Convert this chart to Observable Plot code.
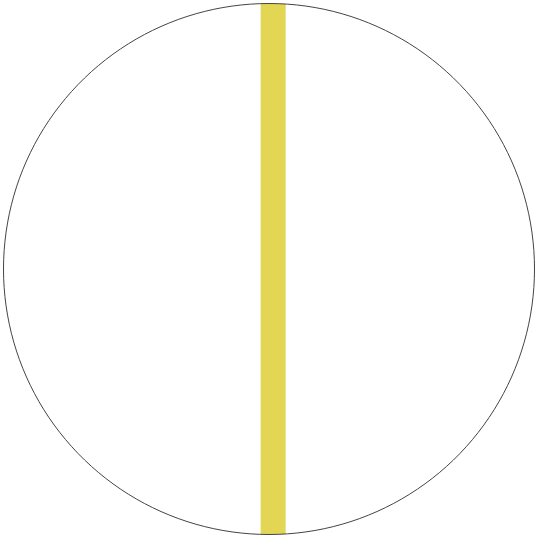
<!DOCTYPE html>
<html>
<head>
<meta charset="utf-8">
<script src="https://cdn.jsdelivr.net/npm/d3@7"></script>
<script src="https://cdn.jsdelivr.net/npm/@observablehq/plot@0.6"></script>
<style>
  html, body { margin: 0; padding: 0; background: #fff; }
</style>
</head>
<body>
<div id="chart"></div>
<script>
// Latitude band (degrees) shown as a vertical strip in a rolled orthographic view
const bandLatitudes = [-3.6, 1.8];
const bandLongitudes = [-100, 100];
const bandColor = "#e3d655";

const band = d3.geoGraticule()
  .extent([[bandLongitudes[0], bandLatitudes[0]], [bandLongitudes[1], bandLatitudes[1]]])
  .precision(1)
  .outline();

const chart = Plot.plot({
  width: 537,
  height: 537,
  margin: 0,
  projection: { type: "orthographic", rotate: [0, 0, 90], inset: 3 },
  marks: [
    Plot.geo([band], { fill: bandColor, stroke: "none" }),
    Plot.sphere({ stroke: "#444", strokeWidth: 1 })
  ]
});
document.getElementById("chart").appendChild(chart);
</script>
</body>
</html>
